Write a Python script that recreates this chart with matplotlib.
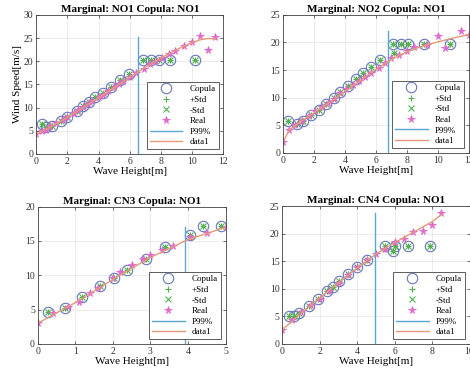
import matplotlib.pyplot as plt

plt.rcParams['font.family'] = ['Liberation Serif', 'DejaVu Serif']

titles = ['Marginal: NO1 Copula: NO1', 'Marginal: NO2 Copula: NO1',
          'Marginal: CN3 Copula: NO1', 'Marginal: CN4 Copula: NO1']

# panel 1 : NO1
cop_x1 = [0.4, 0.65, 1.0, 1.6, 2.0, 2.6, 3.0, 3.4, 3.8, 4.3, 4.8, 5.4, 5.95, 6.85, 7.35, 7.9, 8.6, 10.2]
cop_y1 = [6.4, 5.8, 6.0, 7.1, 8.0, 9.3, 10.3, 11.2, 12.3, 13.2, 14.5, 15.9, 17.2, 20.2, 20.2, 20.2, 20.2, 20.2]
real_x1 = [0, 0.4, 0.6, 0.9, 1.3, 1.7, 2.0, 2.4, 2.7, 3.0, 3.3, 3.6, 4.0, 4.3, 4.6, 5.0, 5.3, 5.6,
           6.0, 6.4, 6.9, 7.3, 7.7, 8.1, 8.5, 8.9, 9.5, 10.0, 10.5, 11.0, 11.5]
real_y1 = [4.3, 5.0, 5.2, 6.0, 6.6, 7.3, 8.0, 8.8, 9.5, 10.2, 10.8, 11.5, 12.2, 12.8, 13.6, 14.4, 15.1, 15.8,
           16.6, 17.4, 18.4, 19.3, 20.1, 20.8, 21.5, 22.3, 23.2, 24.1, 25.4, 22.5, 25.2]
fit_x1 = [0, 1, 2, 3, 4, 5, 6, 7, 8, 9, 10, 10.5, 11, 11.5]
fit_y1 = [4.2, 6.0, 7.9, 10.0, 12.1, 14.3, 16.5, 18.7, 20.7, 22.5, 24.0, 24.6, 24.9, 24.8]

# panel 2 : NO2
cop_x2 = [0.3, 0.9, 1.3, 1.8, 2.3, 2.8, 3.3, 3.7, 4.2, 4.7, 5.2, 5.7, 6.3, 7.1, 7.6, 8.1, 9.1, 10.8]
cop_y2 = [5.8, 5.2, 5.7, 6.8, 7.8, 8.8, 10.0, 11.0, 12.2, 13.3, 14.4, 15.6, 16.9, 19.8, 19.8, 19.8, 19.8, 19.8]
real_x2 = [0, 0.4, 0.8, 1.2, 1.7, 2.1, 2.5, 2.9, 3.3, 3.7, 4.1, 4.5, 4.9, 5.3, 5.7, 6.2, 6.6,
           7.0, 7.5, 8.0, 8.5, 9.3, 10.0, 10.5, 11.5, 12.0]
real_y2 = [1.9, 4.2, 5.0, 5.7, 6.6, 7.5, 8.3, 9.0, 9.8, 10.8, 11.5, 12.3, 13.1, 13.8, 14.5, 15.4, 16.3,
           17.1, 17.8, 18.5, 19.1, 19.6, 21.1, 19.0, 22.0, 21.3]
fit_x2 = [0, 0.4, 1, 2, 3, 4, 5, 6, 7, 8, 9, 10, 11, 12]
fit_y2 = [1.9, 4.1, 5.4, 7.2, 9.1, 11.1, 13.1, 15.1, 16.9, 18.3, 19.3, 20.1, 20.8, 21.4]

# panel 3 : CN3
cop_x3 = [0.28, 0.72, 1.18, 1.65, 2.03, 2.37, 2.87, 3.4, 4.05, 4.4, 4.87]
cop_y3 = [4.6, 5.3, 6.8, 8.5, 9.6, 10.8, 12.4, 14.1, 15.9, 17.2, 17.2]
real_x3 = [0, 0.4, 0.8, 1.1, 1.4, 1.6, 2.0, 2.2, 2.5, 2.8, 3.0, 3.3, 3.6, 4.05, 4.5, 5.0]
real_y3 = [3.0, 4.5, 5.4, 6.1, 7.4, 8.2, 9.6, 10.5, 11.5, 12.3, 13.0, 13.7, 14.3, 15.6, 16.2, 17.0]
fit_x3 = [0, 1, 2, 3, 4, 5]
fit_y3 = [3.0, 6.0, 9.4, 12.6, 15.2, 17.0]

# panel 4 : CN4
cop_x4 = [0.35, 0.6, 0.9, 1.4, 1.9, 2.4, 2.7, 3.0, 3.5, 4.0, 4.5, 5.5, 5.9, 6.0, 6.7, 7.9]
cop_y4 = [5.1, 5.0, 5.7, 6.8, 8.2, 9.6, 10.4, 11.4, 12.7, 13.9, 15.3, 17.8, 16.8, 17.8, 17.8, 17.8]
real_x4 = [0, 0.5, 1.0, 1.5, 2.0, 2.5, 3.0, 3.5, 4.0, 4.5, 5.0, 5.5, 6.0, 6.5, 7.0, 7.5, 8.0, 8.5]
real_y4 = [2.6, 4.3, 5.8, 7.0, 8.2, 9.6, 11.0, 12.5, 14.0, 15.3, 16.3, 17.3, 18.5, 19.1, 20.4, 20.5, 21.6, 23.7]
fit_x4 = [0, 1, 2, 3, 4, 5, 6, 7, 8, 8.5]
fit_y4 = [2.6, 5.6, 8.4, 11.1, 13.8, 16.3, 18.4, 20.3, 22.2, 23.5]

# extra std point without a circle
std_x2 = cop_x2 + [7.2]
std_y2 = cop_y2 + [18.1]

p99 = [6.5, 6.8, 3.93, 4.95]
p99_top = [25.3, 22.0, 17.0, 23.8]
xlims = [12, 12, 5, 10]
ylims = [30, 25, 20, 25]

panels = [
    (cop_x1, cop_y1, cop_x1, cop_y1, real_x1, real_y1, fit_x1, fit_y1),
    (cop_x2, cop_y2, std_x2, std_y2, real_x2, real_y2, fit_x2, fit_y2),
    (cop_x3, cop_y3, cop_x3, cop_y3, real_x3, real_y3, fit_x3, fit_y3),
    (cop_x4, cop_y4, cop_x4, cop_y4, real_x4, real_y4, fit_x4, fit_y4),
]

positions = [
    [0.077, 0.585, 0.398, 0.375],
    [0.602, 0.588, 0.395, 0.372],
    [0.080, 0.073, 0.400, 0.370],
    [0.601, 0.073, 0.398, 0.371],
]

fig = plt.figure(figsize=(4.7, 3.71), dpi=100)

for i, (cx, cy, sx, sy, rx, ry, fx, fy) in enumerate(panels):
    ax = fig.add_axes(positions[i])
    ax.plot(cx, cy, 'o', ms=7.5, mfc='none', mec='#6878b8', mew=0.8, label='Copula')
    ax.plot(sx, sy, '+', ms=5, color='#52b052', mew=0.8, label='+Std')
    ax.plot(sx, sy, 'x', ms=4, color='#52b052', mew=0.8, label='-Std')
    ax.plot(rx, ry, '*', ms=5.5, color='#e068cc', mew=0.6, label='Real')
    ax.plot([p99[i], p99[i]], [0, p99_top[i]], color='#5aa6d6', lw=1.0, label='P99%')
    ax.plot(fx, fy, color='#e59a78', lw=1.0, label='data1')
    ax.set_xlim(0, xlims[i])
    ax.set_ylim(0, ylims[i])
    ax.grid(True, color='#e4e4e4', lw=0.5)
    ax.set_axisbelow(True)
    ax.tick_params(direction='in', labelsize=7, length=2, width=0.5, pad=2,
                   top=True, right=True, colors='#333333')
    for s in ax.spines.values():
        s.set_linewidth(0.6)
        s.set_color('#444444')
    ax.set_title(titles[i], fontsize=8, fontweight='bold', pad=2)
    ax.set_xlabel('Wave Height[m]', fontsize=8, labelpad=1)
    if i == 0:
        ax.set_ylabel('Wind Speed[m/s]', fontsize=8, labelpad=1)
    leg = ax.legend(loc='lower right', fontsize=6.5, handlelength=3.6, labelspacing=0.25,
                    borderpad=0.35, handletextpad=0.8, fancybox=False, framealpha=1,
                    edgecolor='#444444', borderaxespad=0.5)
    leg.get_frame().set_linewidth(0.6)

fig.savefig('out.png', dpi=100)
